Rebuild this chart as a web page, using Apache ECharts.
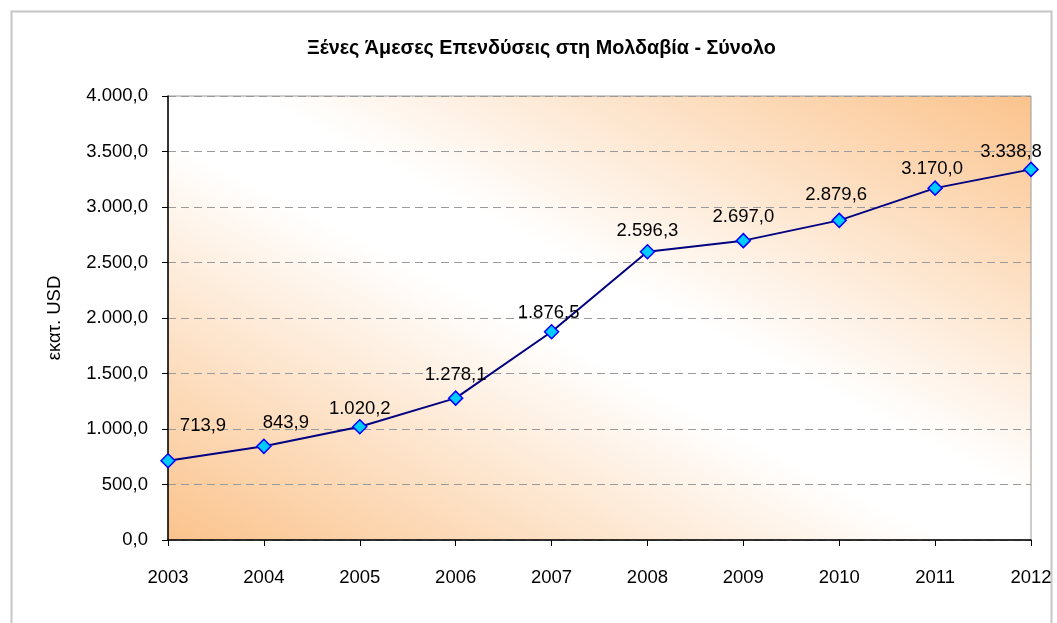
<!DOCTYPE html>
<html>
<head>
<meta charset="utf-8">
<script src="https://cdn.jsdelivr.net/npm/echarts@6/dist/echarts.min.js"></script>
<style>
html,body{margin:0;padding:0;background:#fff;}
#chart{width:1057px;height:623px;}
</style>
</head>
<body>
<div id="chart"></div>
<script>
const years = ['2003','2004','2005','2006','2007','2008','2009','2010','2011','2012'];
const fdiTotal = [713.9, 843.9, 1020.2, 1278.1, 1876.5, 2596.3, 2697.0, 2879.6, 3170.0, 3338.8];
const titleText = 'Ξένες Άμεσες Επενδύσεις στη Μολδαβία - Σύνολο';
const yAxisTitle = 'εκατ. USD';

// label placement tweaks (style only)
const labelShift = [[35,-12],[22,0],[0,5],[0,0],[-3,4],[0,2],[0,0],[-3,-2],[-3,4],[-20,6]];

function fmt(v){
  const parts = Number(v).toFixed(1).split('.');
  return parts[0].replace(/\B(?=(\d{3})+(?!\d))/g,'.') + ',' + parts[1];
}

const FONT = '"Liberation Sans", Arial, sans-serif';
const chart = echarts.init(document.getElementById('chart'), null, {renderer:'canvas'});

const seriesData = fdiTotal.map((v,i)=>({
  value: v,
  label: {offset: labelShift[i]}
}));

// gradient whose bands run parallel to the top-left -> bottom-right diagonal of the plot
const gl = 168, gt = 96, gw = 863, gh = 444;
const cx = gl + gw/2, cy = gt + gh/2;
const len = Math.sqrt(gw*gw + gh*gh);
const ux = gh/len, uy = -gw/len;
const ext = (gw/2)*ux + (gh/2)*(-uy);
const bg = new echarts.graphic.LinearGradient(
  cx - ext*ux, cy - ext*uy, cx + ext*ux, cy + ext*uy,
  [
    {offset:0, color:'#fbc38c'},
    {offset:0.45, color:'#ffffff'},
    {offset:0.55, color:'#ffffff'},
    {offset:1, color:'#fbc38c'}
  ], true);

chart.setOption({
  animation:false,
  backgroundColor:'#ffffff',
  title:{
    text:titleText,
    left:302, top:34,
    textStyle:{fontFamily:FONT, fontSize:19.8, fontWeight:'bold', color:'#000'}
  },
  graphic:[{
    type:'rect', left:9, top:9, silent:true, z:-10,
    shape:{width:1040, height:640},
    style:{fill:'none', stroke:'#c6c6c6', lineWidth:2}
  }],
  grid:{
    left:gl, right:1057-gl-gw, top:gt, bottom:623-gt-gh,
    show:true,
    borderColor:'#9a9a9a', borderWidth:1,
    backgroundColor: bg
  },
  xAxis:{
    type:'category', data:years, boundaryGap:false,
    axisLine:{lineStyle:{color:'#000', width:1.5}},
    axisTick:{show:true, length:6, alignWithLabel:true, lineStyle:{color:'#000'}},
    axisLabel:{fontFamily:FONT, fontSize:18.5, color:'#000', margin:28},
    splitLine:{show:false}
  },
  yAxis:{
    type:'value', min:0, max:4000, interval:500,
    name:yAxisTitle, nameLocation:'middle', nameGap:104, nameRotate:90,
    nameTextStyle:{fontFamily:FONT, fontSize:18.5, color:'#000'},
    axisLine:{show:true, lineStyle:{color:'#000', width:1.5}},
    axisTick:{show:true, length:6, lineStyle:{color:'#000'}},
    axisLabel:{fontFamily:FONT, fontSize:18.5, color:'#000', margin:20, formatter:fmt},
    splitLine:{show:true, lineStyle:{color:'#9a9a9a', type:[8,5], width:1}}
  },
  series:[{
    type:'line',
    data:seriesData,
    symbol:'diamond', symbolSize:14,
    lineStyle:{color:'#000080', width:2},
    itemStyle:{color:'#00ccff', borderColor:'#0000ff', borderWidth:1.5},
    label:{show:true, position:'top', distance:6, fontFamily:FONT, fontSize:18.5, color:'#000', formatter:p=>fmt(p.value)}
  }]
});
</script>
</body>
</html>
